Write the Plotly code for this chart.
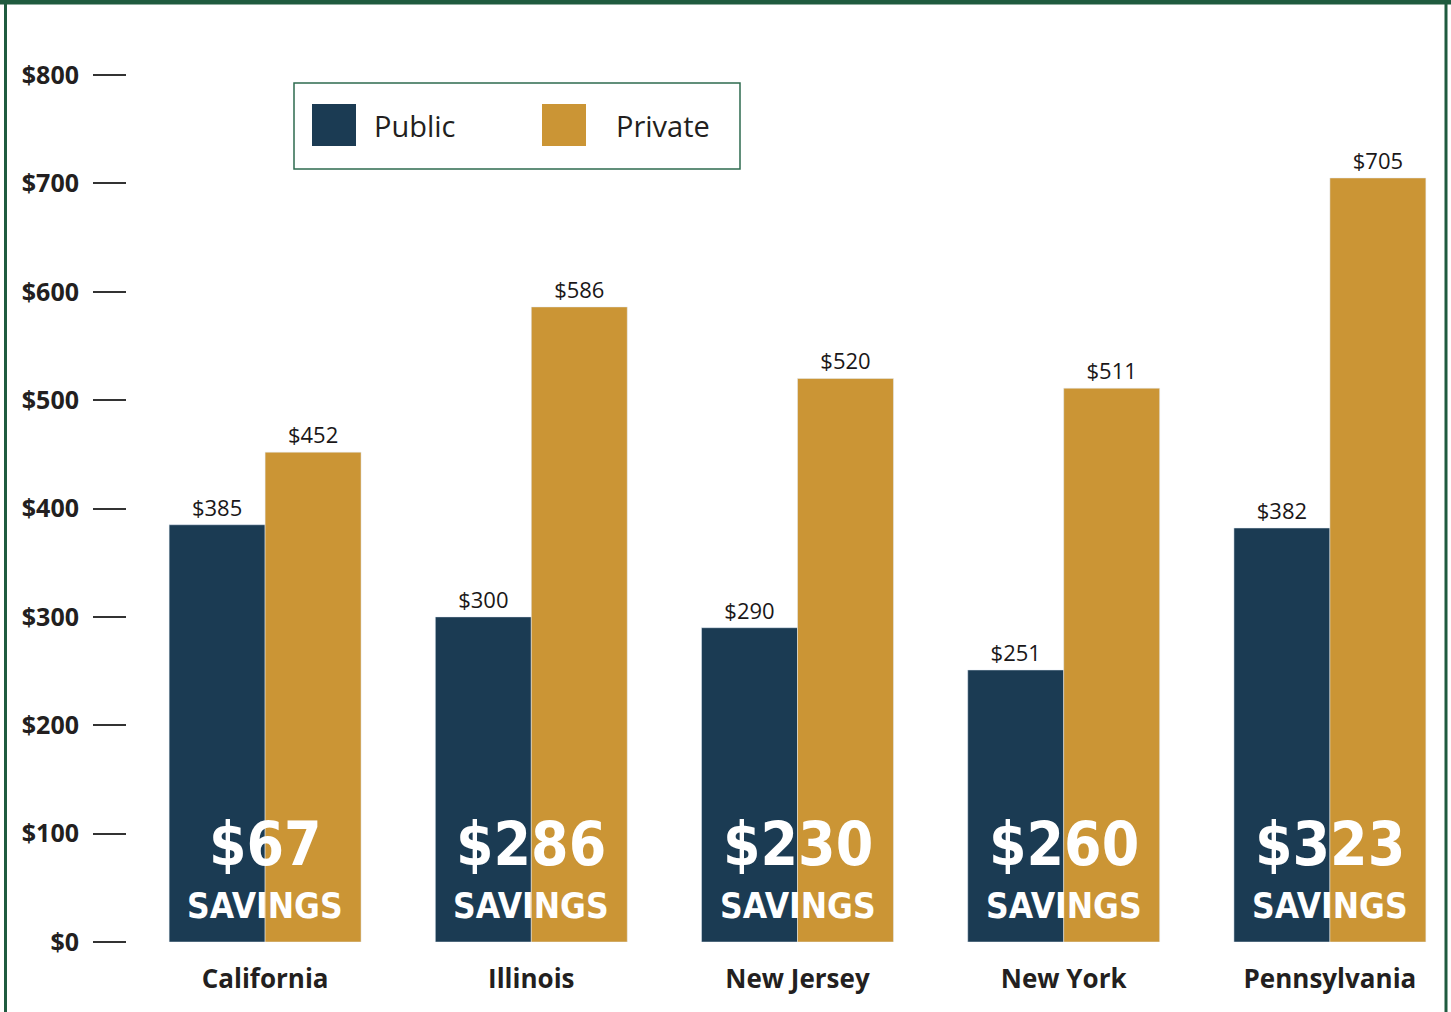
import plotly.graph_objects as go

states = ["California", "Illinois", "New Jersey", "New York", "Pennsylvania"]
public = [385, 300, 290, 251, 382]
private = [452, 586, 520, 511, 705]
savings = [67, 286, 230, 260, 323]
series_names = ["Public", "Private"]
y_ticks = [0, 100, 200, 300, 400, 500, 600, 700, 800]

NAVY = "#1B3B53"
GOLD = "#CB9535"
GREEN = "#1F5B3F"
W, H = 1451, 1012
ML, MR, MT, MB = 126, 14, 61, 70
PW = W - ML - MR
PH = H - MT - MB
PX_PER_UNIT = 1.08375
CAT_SPACING = 266.2
COND = "Liberation Sans Narrow, DejaVu Sans Condensed, sans-serif"


def px_x(px):
    return (px - ML) / PW


def px_y(py):
    return (H - MB - py) / PH


xpos = list(range(len(states)))

fig = go.Figure()
fig.add_trace(go.Bar(
    x=xpos, y=public, name=series_names[0], marker_color=NAVY,
    text=[f"${v}" for v in public], textposition="outside",
    textfont=dict(family="Open Sans", size=22, color="#1A1718"),
    cliponaxis=False, showlegend=False,
))
fig.add_trace(go.Bar(
    x=xpos, y=private, name=series_names[1], marker_color=GOLD,
    text=[f"${v}" for v in private], textposition="outside",
    textfont=dict(family="Open Sans", size=22, color="#1A1718"),
    cliponaxis=False, showlegend=False,
))

# savings annotations
for i, s in enumerate(savings):
    fig.add_annotation(x=i, y=90, xref="x", yref="y", text=f"<b>${s}</b>",
                       showarrow=False, yanchor="middle",
                       font=dict(family=COND, size=60, color="white"))
    fig.add_annotation(x=i, y=33, xref="x", yref="y", text="<b>SAVINGS</b>",
                       showarrow=False, yanchor="middle",
                       font=dict(family=COND, size=35, color="white"))

# manual legend
fig.add_shape(type="rect", xref="paper", yref="paper",
              x0=px_x(294), x1=px_x(740), y0=px_y(169), y1=px_y(83),
              line=dict(color="#2E6B4F", width=1.5), fillcolor="white", layer="below")
for name, color, sx, tx in [(series_names[0], NAVY, 312, 372), (series_names[1], GOLD, 542, 614)]:
    fig.add_shape(type="rect", xref="paper", yref="paper",
                  x0=px_x(sx), x1=px_x(sx + 44), y0=px_y(146), y1=px_y(104),
                  line=dict(width=0), fillcolor=color)
    fig.add_annotation(xref="paper", yref="paper", x=px_x(tx), y=px_y(125),
                       text=name, showarrow=False, xanchor="left", yanchor="middle",
                       font=dict(family="Open Sans", size=29, color="#231F20"))

# frame
for x0, y0, x1, y1, wd in [(0, 2, W, 2, 5), (5.5, 0, 5.5, H + 10, 3), (1446, 0, 1446, H + 10, 3)]:
    fig.add_shape(type="line", xref="paper", yref="paper",
                  x0=px_x(x0), x1=px_x(x1), y0=px_y(y0), y1=px_y(y1),
                  line=dict(color=GREEN, width=wd))

fig.update_layout(
    width=W, height=H, autosize=False,
    margin=dict(l=ML, r=MR, t=MT, b=MB),
    paper_bgcolor="white", plot_bgcolor="white",
    barmode="group", bargap=0.279, bargroupgap=0,
    showlegend=False,
    xaxis=dict(
        domain=[6 / PW, 1],
        range=[-0.5, -0.5 + (PW - 6) / CAT_SPACING],
        tickmode="array", tickvals=xpos, ticktext=[f"<b>{s}</b>" for s in states],
        tickfont=dict(family="Open Sans", size=26, color="#231F20"),
        showgrid=False, zeroline=False, showline=False, ticks="",
        ticklabelstandoff=19,
    ),
    yaxis=dict(
        anchor="free", position=0,
        range=[0, PH / PX_PER_UNIT],
        tickmode="array", tickvals=y_ticks, ticktext=[f"<b>${v}</b>" for v in y_ticks],
        tickfont=dict(family="Open Sans", size=25, color="#231F20"),
        ticks="outside", ticklen=33, tickwidth=1.5, tickcolor="#333333",
        showgrid=False, zeroline=False, showline=False,
        ticklabelstandoff=9,
    ),
)

fig.write_html("out.html", config={"displayModeBar": False},
               post_script="document.body.style.margin='0';")
